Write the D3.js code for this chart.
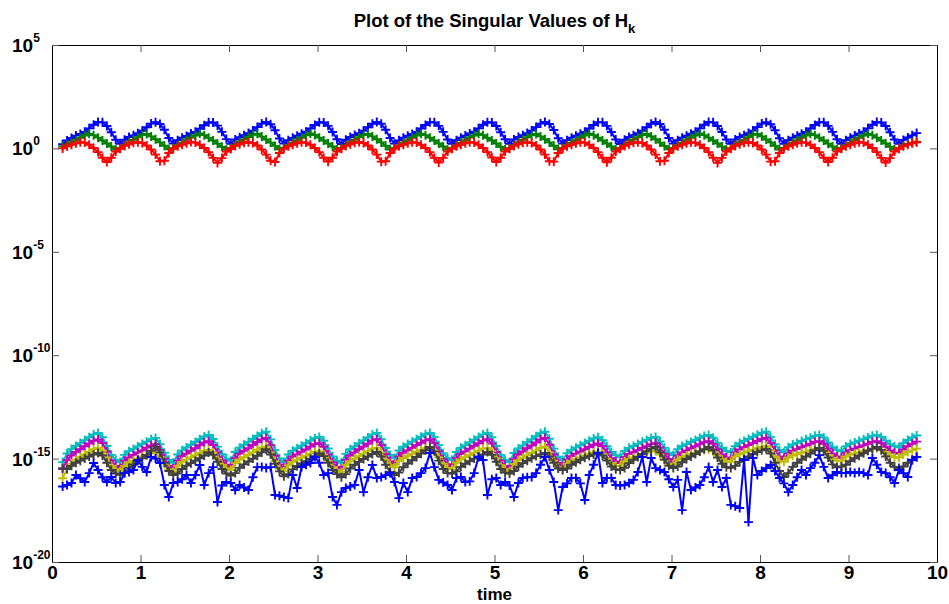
<!DOCTYPE html>
<html><head><meta charset="utf-8">
<script src="https://cdn.jsdelivr.net/npm/d3@7/dist/d3.min.js"></script>
<style>body{margin:0;background:#fff}svg{display:block}</style></head>
<body><svg id="chart" width="949" height="604"></svg>
<script>
// sample times (uniform grid, 194 samples)
const time = d3.range(194).map(i => +(0.12 + 0.05 * i).toFixed(2));

// singular values, given as log10 exponents
const sv1Log10 = [
 0.20,0.38,0.50,0.62,0.70,0.80,0.97,1.14,1.28,1.26,1.08,0.78,0.42,
 0.22,0.42,0.55,0.63,0.73,0.85,1.02,1.20,1.27,1.18,0.90,0.50,
 0.24,0.40,0.52,0.60,0.72,0.80,0.95,1.12,1.26,1.25,1.10,0.80,0.45,
 0.22,0.43,0.54,0.64,0.74,0.86,1.03,1.20,1.28,1.17,0.88,0.48,
 0.23,0.40,0.51,0.61,0.71,0.81,0.96,1.13,1.27,1.25,1.09,0.79,0.44,
 0.21,0.42,0.55,0.65,0.73,0.85,1.02,1.19,1.28,1.19,0.90,0.50,
 0.23,0.39,0.52,0.61,0.70,0.80,0.96,1.13,1.27,1.26,1.09,0.80,0.43,
 0.22,0.40,0.52,0.62,0.72,0.81,0.97,1.14,1.27,1.25,1.08,0.78,0.44,
 0.22,0.43,0.55,0.64,0.74,0.86,1.03,1.20,1.28,1.18,0.89,0.49,
 0.23,0.40,0.52,0.61,0.71,0.80,0.96,1.13,1.27,1.26,1.09,0.79,0.43,
 0.21,0.42,0.55,0.64,0.73,0.85,1.02,1.19,1.28,1.18,0.90,0.50,
 0.23,0.40,0.52,0.61,0.71,0.81,0.97,1.14,1.28,1.26,1.08,0.79,0.43,
 0.22,0.43,0.55,0.64,0.74,0.86,1.03,1.20,1.27,1.17,0.88,0.49,
 0.22,0.40,0.52,0.61,0.71,0.80,0.96,1.13,1.27,1.26,1.09,0.80,0.44,
 0.22,0.40,0.52,0.62,0.72,0.81,0.97,1.14,1.28,1.25,1.08,0.78,0.43,
 0.22,0.41,0.53,0.63,0.74];
const sv2Log10 = [
 0.10,0.18,0.29,0.40,0.51,0.62,0.71,0.64,0.52,0.38,0.24,0.09,-0.05,
 0.02,0.16,0.30,0.42,0.54,0.65,0.70,0.58,0.44,0.29,0.13,-0.04,
 0.01,0.15,0.28,0.41,0.52,0.62,0.72,0.64,0.51,0.38,0.23,0.08,-0.06,
 0.02,0.17,0.31,0.43,0.55,0.66,0.71,0.57,0.43,0.28,0.12,-0.04,
 0.03,0.15,0.28,0.40,0.51,0.63,0.72,0.65,0.52,0.38,0.24,0.09,-0.05,
 0.02,0.16,0.30,0.42,0.54,0.65,0.70,0.58,0.44,0.29,0.13,-0.05,
 0.02,0.14,0.27,0.40,0.51,0.62,0.71,0.64,0.52,0.38,0.24,0.09,-0.06,
 0.02,0.15,0.28,0.40,0.52,0.62,0.71,0.64,0.51,0.38,0.24,0.08,-0.05,
 0.01,0.16,0.30,0.42,0.54,0.65,0.70,0.58,0.44,0.29,0.13,-0.04,
 0.02,0.15,0.28,0.40,0.51,0.62,0.71,0.64,0.52,0.38,0.24,0.09,-0.05,
 0.02,0.16,0.30,0.43,0.54,0.65,0.70,0.58,0.44,0.28,0.12,-0.04,
 0.02,0.15,0.28,0.40,0.51,0.62,0.72,0.64,0.52,0.38,0.24,0.09,-0.06,
 0.01,0.16,0.30,0.42,0.54,0.66,0.70,0.58,0.43,0.29,0.13,-0.05,
 0.02,0.15,0.28,0.40,0.51,0.62,0.71,0.64,0.52,0.38,0.23,0.09,-0.05,
 0.02,0.15,0.28,0.40,0.51,0.62,0.71,0.64,0.52,0.38,0.24,0.08,-0.05,
 0.02,0.13,0.22,0.28,0.32];
const sv3Log10 = [
 0.00,0.10,0.18,0.25,0.30,0.28,0.18,0.02,-0.18,-0.45,-0.66,-0.45,-0.15,
 -0.02,0.12,0.20,0.27,0.30,0.26,0.14,-0.05,-0.30,-0.62,-0.60,-0.22,
 -0.02,0.10,0.18,0.25,0.31,0.28,0.18,0.02,-0.18,-0.46,-0.70,-0.47,-0.15,
 -0.03,0.12,0.20,0.27,0.30,0.26,0.14,-0.05,-0.30,-0.60,-0.66,-0.22,
 -0.02,0.10,0.18,0.25,0.30,0.28,0.18,0.02,-0.18,-0.45,-0.64,-0.45,-0.15,
 -0.02,0.12,0.20,0.27,0.31,0.26,0.14,-0.05,-0.30,-0.64,-0.62,-0.22,
 -0.02,0.10,0.18,0.25,0.30,0.28,0.18,0.02,-0.18,-0.45,-0.68,-0.46,-0.15,
 -0.02,0.10,0.18,0.25,0.30,0.28,0.18,0.02,-0.18,-0.44,-0.66,-0.45,-0.15,
 -0.02,0.12,0.20,0.27,0.30,0.26,0.14,-0.05,-0.30,-0.62,-0.64,-0.22,
 -0.02,0.10,0.18,0.25,0.30,0.28,0.18,0.02,-0.18,-0.45,-0.67,-0.45,-0.15,
 -0.02,0.12,0.20,0.27,0.30,0.26,0.14,-0.05,-0.30,-0.62,-0.60,-0.22,
 -0.02,0.10,0.18,0.25,0.30,0.28,0.18,0.02,-0.18,-0.45,-0.70,-0.46,-0.15,
 -0.02,0.12,0.20,0.27,0.30,0.26,0.14,-0.05,-0.30,-0.64,-0.62,-0.22,
 -0.02,0.10,0.18,0.25,0.30,0.28,0.18,0.02,-0.18,-0.45,-0.66,-0.45,-0.15,
 -0.02,0.10,0.18,0.25,0.30,0.28,0.18,0.02,-0.18,-0.46,-0.68,-0.47,-0.15,
 -0.02,0.10,0.18,0.25,0.30];
const sv4Log10 = [
 -15.17,-14.75,-14.54,-14.39,-14.25,-14.11,-13.97,-13.83,-13.76,-13.97,-14.39,-14.82,-15.06,
 -15.17,-14.82,-14.64,-14.53,-14.41,-14.29,-14.18,-14.06,-14.00,-14.30,-14.72,-15.06,
 -15.20,-14.80,-14.60,-14.46,-14.33,-14.20,-14.06,-13.93,-13.86,-14.05,-14.42,-14.79,-15.00,
 -15.10,-14.68,-14.47,-14.33,-14.19,-14.05,-13.91,-13.77,-13.70,-14.07,-14.58,-14.99,
 -15.17,-14.80,-14.62,-14.50,-14.38,-14.26,-14.13,-14.01,-13.95,-14.14,-14.51,-14.89,-15.10,
 -15.20,-14.77,-14.55,-14.41,-14.26,-14.12,-13.98,-13.83,-13.76,-14.06,-14.49,-14.82,
 -14.97,-14.61,-14.43,-14.30,-14.18,-14.06,-13.94,-13.82,-13.76,-13.96,-14.35,-14.74,-14.97,
 -15.07,-14.68,-14.48,-14.35,-14.22,-14.09,-13.96,-13.83,-13.76,-13.97,-14.39,-14.82,-15.06,
 -15.17,-14.73,-14.51,-14.36,-14.21,-14.07,-13.92,-13.77,-13.70,-14.04,-14.52,-14.91,
 -15.07,-14.74,-14.58,-14.47,-14.36,-14.25,-14.14,-14.03,-13.97,-14.11,-14.40,-14.68,-14.84,
 -14.92,-14.63,-14.48,-14.39,-14.29,-14.19,-14.10,-14.00,-13.95,-14.17,-14.48,-14.72,
 -14.83,-14.54,-14.39,-14.30,-14.20,-14.10,-14.00,-13.91,-13.86,-13.99,-14.24,-14.49,-14.63,
 -14.70,-14.40,-14.25,-14.15,-14.05,-13.95,-13.85,-13.75,-13.70,-13.95,-14.30,-14.58,
 -14.70,-14.45,-14.32,-14.24,-14.15,-14.07,-13.99,-13.90,-13.86,-13.98,-14.22,-14.45,-14.59,
 -14.65,-14.41,-14.29,-14.22,-14.14,-14.06,-13.98,-13.90,-13.86,-13.95,-14.13,-14.30,-14.40,
 -14.45,-14.25,-14.10,-13.98,-13.88];
const sv5Log10 = [
 -15.50,-15.08,-14.85,-14.68,-14.55,-14.40,-14.27,-14.14,-14.08,-14.25,-14.66,-15.10,-15.35,
 -15.45,-15.10,-14.95,-14.82,-14.70,-14.60,-14.47,-14.36,-14.30,-14.58,-15.00,-15.34,
 -15.48,-15.10,-14.88,-14.76,-14.62,-14.50,-14.35,-14.22,-14.16,-14.34,-14.70,-15.08,-15.30,
 -15.40,-14.98,-14.76,-14.62,-14.50,-14.34,-14.20,-14.07,-14.00,-14.35,-14.86,-15.28,
 -15.45,-15.10,-14.90,-14.80,-14.67,-14.56,-14.42,-14.30,-14.25,-14.43,-14.80,-15.18,-15.40,
 -15.48,-15.06,-14.85,-14.70,-14.55,-14.42,-14.28,-14.12,-14.06,-14.35,-14.78,-15.12,
 -15.27,-14.90,-14.72,-14.60,-14.48,-14.35,-14.24,-14.12,-14.06,-14.25,-14.64,-15.03,-15.27,
 -15.37,-14.98,-14.77,-14.65,-14.52,-14.38,-14.26,-14.13,-14.06,-14.27,-14.68,-15.10,-15.35,
 -15.45,-15.03,-14.80,-14.66,-14.50,-14.37,-14.22,-14.07,-14.00,-14.33,-14.80,-15.20,
 -15.37,-15.04,-14.88,-14.76,-14.66,-14.55,-14.44,-14.33,-14.27,-14.40,-14.70,-14.98,-15.14,
 -15.22,-14.93,-14.78,-14.69,-14.59,-14.49,-14.40,-14.30,-14.25,-14.46,-14.78,-15.02,
 -15.15,-14.86,-14.70,-14.60,-14.50,-14.40,-14.30,-14.21,-14.16,-14.29,-14.54,-14.80,-14.95,
 -15.02,-14.70,-14.56,-14.45,-14.35,-14.25,-14.15,-14.05,-14.00,-14.25,-14.60,-14.90,
 -15.02,-14.76,-14.62,-14.54,-14.45,-14.37,-14.29,-14.20,-14.16,-14.28,-14.52,-14.76,-14.90,
 -14.96,-14.72,-14.59,-14.52,-14.44,-14.36,-14.28,-14.20,-14.16,-14.25,-14.43,-14.60,-14.72,
 -14.76,-14.56,-14.40,-14.28,-14.18];
const sv6Log10 = [
 -15.95,-15.50,-15.25,-15.05,-14.92,-14.80,-14.68,-14.55,-14.48,-14.62,-14.95,-15.35,-15.52,
 -15.62,-15.35,-15.20,-15.10,-14.99,-14.90,-14.82,-14.74,-14.70,-14.92,-15.25,-15.52,
 -15.65,-15.35,-15.16,-15.05,-14.94,-14.84,-14.74,-14.63,-14.58,-14.70,-15.00,-15.30,-15.48,
 -15.55,-15.22,-15.04,-14.93,-14.82,-14.70,-14.57,-14.46,-14.42,-14.70,-15.12,-15.48,
 -15.62,-15.32,-15.16,-15.06,-14.96,-14.86,-14.76,-14.68,-14.65,-14.80,-15.10,-15.40,-15.58,
 -15.65,-15.30,-15.12,-15.00,-14.88,-14.76,-14.64,-14.52,-14.48,-14.70,-15.06,-15.32,
 -15.42,-15.12,-14.98,-14.87,-14.77,-14.67,-14.58,-14.50,-14.46,-14.62,-14.94,-15.25,-15.45,
 -15.52,-15.20,-15.04,-14.93,-14.83,-14.72,-14.62,-14.52,-14.48,-14.64,-14.98,-15.32,-15.52,
 -15.62,-15.26,-15.08,-14.96,-14.84,-14.73,-14.61,-14.48,-14.42,-14.70,-15.10,-15.42,
 -15.52,-15.25,-15.12,-15.03,-14.94,-14.86,-14.78,-14.70,-14.66,-14.76,-15.00,-15.22,-15.35,
 -15.37,-15.13,-15.02,-14.95,-14.88,-14.80,-14.73,-14.66,-14.63,-14.80,-15.06,-15.26,
 -15.28,-15.04,-14.93,-14.86,-14.78,-14.71,-14.64,-14.58,-14.55,-14.65,-14.85,-15.05,-15.15,
 -15.15,-14.90,-14.79,-14.71,-14.64,-14.57,-14.50,-14.44,-14.40,-14.60,-14.90,-15.12,
 -15.15,-14.95,-14.85,-14.79,-14.72,-14.66,-14.60,-14.54,-14.52,-14.62,-14.82,-15.00,-15.10,
 -15.10,-14.90,-14.81,-14.76,-14.70,-14.64,-14.58,-14.53,-14.50,-14.58,-14.72,-14.86,-14.94,
 -14.95,-14.80,-14.68,-14.60,-14.52];
const sv7Log10 = [
 -15.46,-15.50,-15.35,-15.20,-15.10,-15.00,-14.90,-14.80,-14.73,-14.85,-15.20,-15.55,-15.72,
 -15.78,-15.70,-15.45,-15.28,-15.12,-14.98,-14.82,-14.62,-14.42,-14.70,-15.20,-15.60,
 -15.80,-15.72,-15.50,-15.34,-15.22,-15.10,-14.98,-14.85,-14.70,-14.82,-15.15,-15.50,-15.72,
 -15.82,-15.70,-15.45,-15.28,-15.14,-15.00,-14.86,-14.70,-14.55,-14.80,-15.25,-15.62,
 -15.85,-15.75,-15.52,-15.36,-15.24,-15.12,-15.00,-14.88,-14.75,-14.88,-15.20,-15.55,-15.75,
 -15.90,-15.75,-15.48,-15.30,-15.16,-15.02,-14.90,-14.78,-14.68,-14.90,-15.30,-15.65,
 -15.80,-15.68,-15.42,-15.24,-15.08,-14.92,-14.76,-14.60,-14.44,-14.65,-15.10,-15.50,-15.70,
 -15.72,-15.62,-15.40,-15.25,-15.12,-15.00,-14.90,-14.80,-14.68,-14.82,-15.15,-15.50,-15.68,
 -15.72,-15.60,-15.38,-15.22,-15.10,-14.98,-14.88,-14.80,-14.73,-14.90,-15.20,-15.48,
 -15.55,-15.48,-15.30,-15.18,-15.06,-14.96,-14.88,-14.80,-14.73,-14.85,-15.10,-15.38,-15.52,
 -15.55,-15.45,-15.22,-15.06,-14.92,-14.78,-14.64,-14.52,-14.44,-14.70,-15.05,-15.35,
 -15.46,-15.38,-15.18,-15.02,-14.90,-14.78,-14.66,-14.54,-14.44,-14.60,-14.95,-15.25,-15.42,
 -15.45,-15.35,-15.16,-15.02,-14.90,-14.78,-14.68,-14.60,-14.53,-14.75,-15.20,-15.60,
 -15.89,-15.70,-15.40,-15.20,-15.04,-14.90,-14.76,-14.60,-14.48,-14.62,-14.95,-15.28,-15.42,
 -15.38,-15.30,-15.12,-14.98,-14.86,-14.74,-14.62,-14.52,-14.44,-14.58,-14.90,-15.20,-15.40,
 -15.46,-15.38,-15.20,-15.05,-14.92];
const sv8Log10 = [
 -16.35,-16.28,-16.18,-15.79,-15.95,-16.13,-15.70,-15.21,-15.55,-15.90,
 -16.13,-15.89,-16.18,-16.13,-15.70,-15.65,-15.55,-15.07,-15.40,-15.65,
 -14.92,-15.00,-15.21,-16.28,-16.86,-16.18,-16.13,-16.00,-15.79,-16.18,
 -15.79,-15.31,-16.28,-15.70,-15.41,-17.10,-16.30,-16.13,-16.18,-16.52,
 -16.28,-16.40,-16.52,-15.90,-15.41,-15.41,-15.45,-15.41,-16.76,-16.80,
 -16.86,-16.91,-15.79,-16.42,-15.41,-15.30,-15.21,-14.92,-15.20,-15.79,
 -15.70,-16.86,-17.24,-16.62,-16.42,-16.35,-16.28,-15.55,-16.62,-15.90,
 -15.31,-15.94,-15.89,-15.80,-15.70,-16.13,-16.91,-16.18,-16.62,-15.94,
 -15.89,-15.70,-15.46,-14.73,-15.41,-16.03,-16.15,-16.28,-16.52,-15.94,
 -15.89,-16.13,-16.10,-15.70,-14.92,-15.07,-16.76,-16.00,-15.94,-16.28,
 -16.13,-16.30,-16.86,-16.18,-15.94,-15.90,-15.89,-15.70,-15.30,-14.92,
 -15.55,-16.13,-17.49,-16.37,-16.20,-15.94,-15.94,-16.20,-17.00,-15.79,
 -15.30,-14.73,-16.18,-15.94,-15.94,-16.28,-16.30,-16.28,-16.18,-16.03,
 -15.65,-14.92,-16.13,-14.97,-15.46,-15.55,-15.65,-16.00,-16.37,-16.03,
 -17.49,-15.65,-16.52,-16.40,-16.28,-15.90,-15.41,-16.13,-15.55,-16.37,
 -15.94,-17.24,-17.30,-17.39,-15.07,-18.07,-14.97,-15.79,-15.60,-15.46,
 -15.31,-15.60,-15.94,-16.20,-16.62,-16.28,-15.90,-15.55,-15.79,-15.46,
 -15.20,-14.83,-15.40,-15.94,-15.80,-15.65,-15.70,-15.70,-15.65,-15.70,
 -15.65,-15.70,-15.79,-14.97,-15.30,-15.65,-15.70,-15.90,-16.18,-15.55,
 -15.70,-15.89,-15.07,-14.92];

const seriesLog10 = [sv1Log10, sv2Log10, sv3Log10, sv4Log10, sv5Log10, sv6Log10, sv7Log10, sv8Log10];
const seriesColors = ["#0000ff", "#008000", "#ff0000", "#00bfbf", "#bf00bf", "#bfbf00", "#404040", "#0000ff"];
const xTicks = [0, 1, 2, 3, 4, 5, 6, 7, 8, 9, 10];
const yTickExps = [5, 0, -5, -10, -15, -20];

const W = 949, H = 604;
const plot = {left: 52, right: 937, top: 45, bottom: 562};
const FONT = "'Liberation Sans', Arial, sans-serif";

const svg = d3.select("#chart");
const x = d3.scaleLinear().domain([0, 10]).range([plot.left, plot.right]);
const y = d3.scaleLog().domain([1e-20, 1e5]).range([plot.bottom, plot.top]);
const yTickVals = yTickExps.map(e => Math.pow(10, e));

svg.append("rect").attr("width", W).attr("height", H).attr("fill", "#fff");

// series
const line = d3.line().x(d => x(d[0])).y(d => y(d[1]));
const g = svg.append("g");
seriesLog10.forEach((s, k) => {
  const pts = s.map((v, i) => [time[i], Math.pow(10, v)]);
  const col = seriesColors[k];
  g.append("path").datum(pts).attr("d", line)
    .attr("fill", "none").attr("stroke", col).attr("stroke-width", 2)
    .attr("stroke-linejoin", "round");
  g.append("g").selectAll("path").data(pts).join("path")
    .attr("d", d => {
      const cx = x(d[0]), cy = y(d[1]), r = 4.5;
      return `M${cx - r},${cy}H${cx + r}M${cx},${cy - r}V${cy + r}`;
    })
    .attr("stroke", col).attr("stroke-width", 1.9).attr("fill", "none");
});

// axes (ticks inward, box)
const axStyle = sel => {
  sel.select(".domain").attr("stroke", "#000").attr("stroke-width", 1);
  sel.selectAll(".tick line").attr("stroke", "#555").attr("stroke-width", 1);
};
svg.append("g").attr("transform", `translate(0,${plot.bottom})`)
  .call(d3.axisBottom(x).tickValues(xTicks).tickSizeInner(-7).tickSizeOuter(0).tickPadding(4).tickFormat(d3.format("d")))
  .call(axStyle)
  .call(s => s.selectAll("text").attr("font-family", FONT).attr("font-weight", "bold")
    .attr("font-size", 19).attr("fill", "#000"));
svg.append("g").attr("transform", `translate(0,${plot.top})`)
  .call(d3.axisTop(x).tickValues(xTicks).tickSizeInner(-7).tickSizeOuter(0).tickFormat(""))
  .call(axStyle);
svg.append("g").attr("transform", `translate(${plot.left},0)`)
  .call(d3.axisLeft(y).tickValues(yTickVals).tickSizeInner(-7).tickSizeOuter(0).tickFormat(""))
  .call(axStyle);
svg.append("g").attr("transform", `translate(${plot.right},0)`)
  .call(d3.axisRight(y).tickValues(yTickVals).tickSizeInner(-7).tickSizeOuter(0).tickFormat(""))
  .call(axStyle);

// y tick labels 10^e
const yl = svg.append("g").attr("font-family", FONT).attr("font-weight", "bold").attr("fill", "#000");
yTickExps.forEach(e => {
  const t = yl.append("text").attr("x", 12).attr("y", y(Math.pow(10, e)) + 7).attr("font-size", 19);
  t.append("tspan").text("10");
  t.append("tspan").attr("font-size", 12).attr("dy", -10).text(e);
});

// title and x label
const title = svg.append("text").attr("x", (plot.left + plot.right) / 2).attr("y", 27)
  .attr("text-anchor", "middle").attr("font-family", FONT).attr("font-weight", "bold")
  .attr("font-size", 18.5).attr("fill", "#000");
title.append("tspan").text("Plot of the Singular Values of H");
title.append("tspan").attr("font-size", 13).attr("dy", 6).text("k");

svg.append("text").attr("x", (plot.left + plot.right) / 2).attr("y", 600)
  .attr("text-anchor", "middle").attr("font-family", FONT).attr("font-weight", "bold")
  .attr("font-size", 17).attr("fill", "#000").text("time");
</script></body></html>
